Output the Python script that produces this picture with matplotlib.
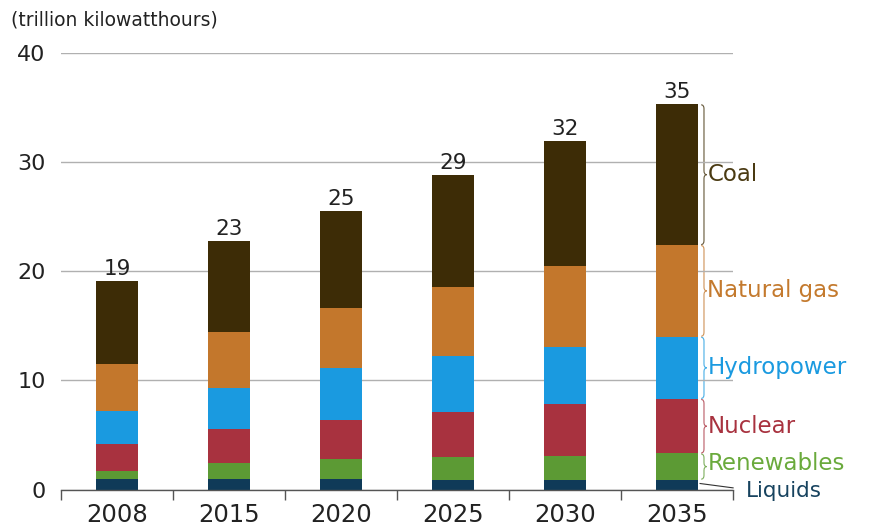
import numpy as np
import matplotlib
matplotlib.use('Agg')
from matplotlib import pyplot as plt
from matplotlib.path import Path
from matplotlib.patches import PathPatch

plt.rcParams['font.family'] = ['DejaVu Sans']

years = ['2008', '2015', '2020', '2025', '2030', '2035']
total_labels = ['19', '23', '25', '29', '32', '35']

# trillion kWh, bottom to top
liquids = [1.0, 1.0, 1.0, 0.9, 0.9, 0.9]
renewables = [0.7, 1.4, 1.8, 2.1, 2.2, 2.4]
nuclear = [2.5, 3.1, 3.6, 4.1, 4.7, 5.0]
hydropower = [3.0, 3.8, 4.7, 5.1, 5.3, 5.7]
natural_gas = [4.3, 5.1, 5.5, 6.4, 7.4, 8.4]
coal = [7.6, 8.4, 8.9, 10.2, 11.4, 12.9]

series = [('Liquids', liquids, '#0f3a58', '#17435f'),
          ('Renewables', renewables, '#5c9a34', '#6aaa3c'),
          ('Nuclear', nuclear, '#a8323f', '#a8323f'),
          ('Hydropower', hydropower, '#1a9ae0', '#1a9ae0'),
          ('Natural gas', natural_gas, '#c3772c', '#c47a2e'),
          ('Coal', coal, '#3d2c06', '#4a3a12')]


def draw_brace(ax, x, y0, y1, w, color):
    ym = (y0 + y1) / 2.0
    d = min(0.35, (y1 - y0) / 6.0)
    verts = [(x, y0), (x + w / 2, y0), (x + w / 2, y0 + d),
             (x + w / 2, ym - d), (x + w / 2, ym), (x + w, ym),
             (x + w / 2, ym), (x + w / 2, ym + d),
             (x + w / 2, y1 - d), (x + w / 2, y1), (x, y1)]
    codes = [Path.MOVETO, Path.CURVE3, Path.CURVE3,
             Path.LINETO, Path.CURVE3, Path.CURVE3,
             Path.CURVE3, Path.CURVE3,
             Path.LINETO, Path.CURVE3, Path.CURVE3]
    ax.add_patch(PathPatch(Path(verts, codes), fill=False, edgecolor=color,
                           lw=0.8, alpha=0.8, clip_on=False))


fig = plt.figure(figsize=(8.74, 5.3), dpi=100)
ax = fig.add_axes([0.0698, 0.0764, 0.769, 0.8236])

x = np.arange(len(years))
width = 0.37
bottom = np.zeros(len(years))
for name, vals, col, tcol in series:
    ax.bar(x, vals, width, bottom=bottom, color=col, zorder=3)
    bottom = bottom + np.array(vals)

for i, lab in enumerate(total_labels):
    ax.text(x[i], bottom[i] + 0.2, lab, ha='center', va='bottom',
            fontsize=15.5, color='#222222')

# category labels at the right of the last bar
last = len(years) - 1
base = 0.0
for name, vals, col, tcol in series:
    top = base + vals[last]
    if name == 'Liquids':
        ax.plot([x[last] + width / 2 + 0.02, 5.5], [top / 2 + 0.1, 0.15],
                color='#333333', lw=0.8, clip_on=False, zorder=4)
        ax.text(5.61, -0.15, name, ha='left', va='center', fontsize=15.5, color=tcol)
    else:
        draw_brace(ax, x[last] + width / 2 + 0.03, base + 0.05, top - 0.05, 0.05, col)
        ymid = (base + top) / 2
        if name == 'Renewables':
            ymid += 0.3
        ax.text(5.27, ymid, name, ha='left', va='center',
                fontsize=16.5, color=tcol)
    base = top

ax.set_xlim(-0.5, 5.5)
ax.set_ylim(0, 40)
ax.set_yticks([0, 10, 20, 30, 40])
ax.yaxis.grid(True, color='#b0b0b0', lw=1, zorder=0)
ax.tick_params(axis='y', length=0, pad=11, labelsize=16, labelcolor='#222222')

ax.set_xticks(x)
ax.set_xticklabels(years)
ax.set_xticks(np.arange(-0.5, 6, 1), minor=True)
ax.tick_params(axis='x', which='major', length=0, pad=10, labelsize=17.5,
               labelcolor='#222222')
ax.tick_params(axis='x', which='minor', length=7, width=1, color='#555555',
               direction='out')

for s in ['top', 'right', 'left']:
    ax.spines[s].set_visible(False)
ax.spines['bottom'].set_color('#555555')
ax.spines['bottom'].set_linewidth(1)
ax.spines['bottom'].set_zorder(5)

fig.text(0.013, 0.962, '(trillion kilowatthours)', ha='left', va='center',
         fontsize=13.5, color='#222222')

fig.savefig('out.png', dpi=100)
